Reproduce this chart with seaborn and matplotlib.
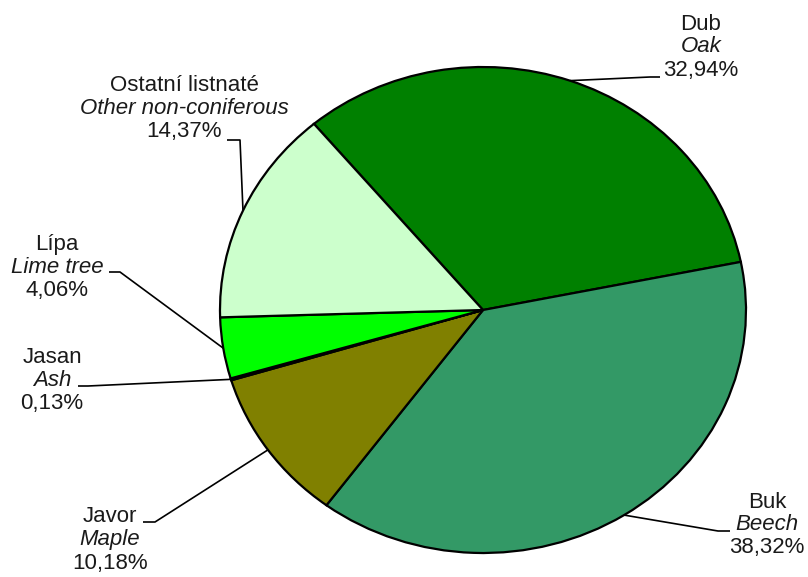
import numpy as np
import matplotlib.pyplot as plt
import seaborn as sns

# ---------------------------------------------------------------------------
# Data
# ---------------------------------------------------------------------------
species_cz = ["Dub", "Buk", "Javor", "Jasan", "Lípa", "Ostatní listnaté"]
species_en = ["Oak", "Beech", "Maple", "Ash", "Lime tree", "Other non-coniferous"]
shares = [32.94, 38.32, 10.18, 0.13, 4.06, 14.37]
colors = ["#008000", "#339966", "#808000", "#333300", "#00FF00", "#CCFFCC"]

# label layout (figure pixels from top-left): text centre, line end x, elbow x, line y
label_layout = {
    "Dub": dict(tx=701, ty=47, end_x=660, elbow_x=650, ly=77),
    "Buk": dict(tx=767, ty=525, end_x=730, elbow_x=718, ly=531),
    "Javor": dict(tx=110, ty=540, end_x=143, elbow_x=155, ly=522),
    "Jasan": dict(tx=52, ty=380, end_x=78, elbow_x=88, ly=386),
    "Lípa": dict(tx=57, ty=267, end_x=109, elbow_x=120, ly=272),
    "Ostatní listnaté": dict(tx=184, ty=108, end_x=227, elbow_x=240, ly=140),
}

W, H = 808, 577
CX, CY, RX, RY = 483, 310, 263, 243
START = 130

sns.set_theme(style="white")
plt.rcParams["font.family"] = ["Liberation Sans", "DejaVu Sans"]

fig = plt.figure(figsize=(W / 100, H / 100), dpi=100)
ax = fig.add_axes([0, 0, 1, 1])

ax.pie(shares, colors=colors, startangle=START, counterclock=False,
       wedgeprops=dict(edgecolor="black", linewidth=1.6))
ax.set_aspect("auto")
ax.set_xlim(-CX / RX, (W - CX) / RX)
ax.set_ylim(-(H - CY) / RY, CY / RY)
ax.axis("off")


def px(x, y):
    """Figure pixel (top-left origin) -> data coords."""
    return (x - CX) / RX, (CY - y) / RY


line_h = 23
fs = 16
cum = np.cumsum([0] + shares[:-1])
for i, name in enumerate(species_cz):
    lay = label_layout[name]
    mid = np.deg2rad(START - 3.6 * (cum[i] + shares[i] / 2))
    x0, y0 = np.cos(mid), np.sin(mid)
    xe, ye = px(lay["elbow_x"], lay["ly"])
    xn, yn = px(lay["end_x"], lay["ly"])
    ax.plot([x0, xe, xn], [y0, ye, yn], color="black", lw=1.2,
            solid_capstyle="butt", clip_on=False)

    pct = f"{shares[i]:.2f}%".replace(".", ",")
    lines = [(name, "normal"), (species_en[i], "italic"), (pct, "normal")]
    for k, (txt, style) in enumerate(lines):
        tx, ty = px(lay["tx"], lay["ty"] + (k - 1) * line_h)
        ax.text(tx, ty, txt, ha="center", va="center", fontsize=fs,
                fontstyle=style, color="#1a1a1a")

fig.savefig("out.png", dpi=100)
